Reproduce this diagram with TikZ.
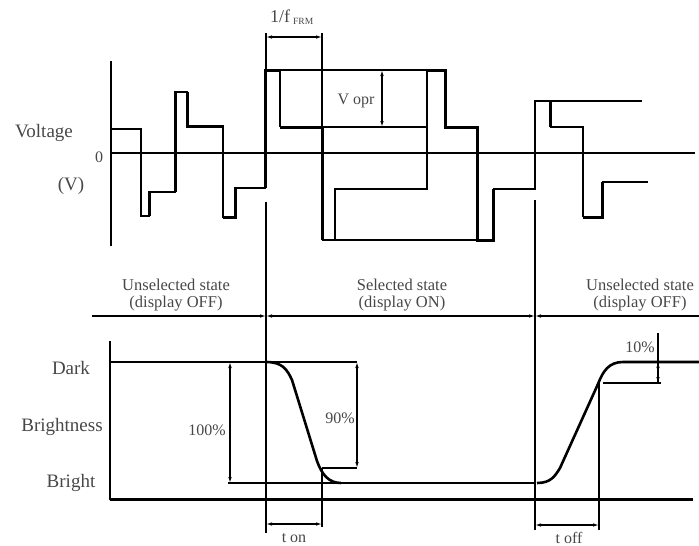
\documentclass[tikz,border=0pt]{standalone}
\usepackage{fontspec}
\setmainfont{Liberation Serif}
\usetikzlibrary{arrows.meta}
\begin{document}
\begin{tikzpicture}[x=1pt,y=-1pt,
  thinl/.style={line width=1.2pt},
  thickl/.style={line width=3pt},
  curvel/.style={line width=2.6pt},
  dimarr/.style={line width=1.1pt,{Latex[length=6pt,width=3.5pt]}-{Latex[length=6pt,width=3.5pt]}},
  endarr/.style={line width=1.1pt,-{Latex[length=6pt,width=3.5pt]}},
  startarr/.style={line width=1.1pt,{Latex[length=6pt,width=3.5pt]}-},
  lab/.style={text=black!72, inner sep=0pt},
  biglab/.style={lab, font=\fontsize{19}{20}\selectfont},
  midlab/.style={lab, font=\fontsize{16}{17}\selectfont},
  smalllab/.style={lab, font=\fontsize{16.5}{17}\selectfont}]
\useasboundingbox (0,0) rectangle (699,546);

% ---------- voltage section ----------
\draw[thinl] (111,61) -- (111,246);
\draw[thinl] (111,153) -- (695,153);

% waveform (thin base)
\draw[thinl] (111,129) -- (141,129) -- (141,216) -- (149,216) -- (149,192) -- (175,192)
  -- (175,92) -- (187,92) -- (187,126) -- (223,126) -- (223,217) -- (235,217)
  -- (235,188) -- (265,188) -- (265,70) -- (445,70);
% thick parts
\draw[thickl] (149,216) -- (149,192);
\draw[thickl] (175,192) -- (175,92);
\draw[thickl] (187,92) -- (187,126) -- (223,126);
\draw[thickl] (223,217) -- (235,217) -- (235,188);
\draw[thickl] (265,188) -- (265,70) -- (280,70);
\draw[thinl] (280,70) -- (280,127);
\draw[thickl] (280,127) -- (322,127) -- (322,240);
\draw[thinl] (322,127) -- (427,127);
\draw[thinl] (427,70) -- (427,189) -- (335,189) -- (335,240);
\draw[thinl] (322,240) -- (477,240);
\draw[thickl] (427,70) -- (445,70) -- (445,127) -- (477,127) -- (477,240) -- (493,240) -- (493,189);
\draw[thinl] (493,189) -- (535,189) -- (535,101) -- (642,101);
\draw[thickl] (550,101) -- (550,127);
\draw[thinl] (550,127) -- (583,127) -- (583,217);
\draw[thickl] (583,217) -- (602,217) -- (602,182);
\draw[thinl] (602,182) -- (648,182);

% 1/f dimension
\coordinate (fa) at (266,37);
\coordinate (fb) at (322,37);
\draw[thinl] (266,33) -- (266,70);
\draw[thinl] (322,33) -- (322,127);
\draw[dimarr] (fa) -- (fb);
\node[lab, font=\fontsize{18}{19}\selectfont, anchor=base west] (ffrm) at (270,22) {1/f\,\raisebox{-2pt}{\fontsize{9.5}{10}\selectfont FRM}};

% V opr dimension
\coordinate (va) at (382,70);
\coordinate (vb) at (382,127);
\draw[dimarr] (va) -- (vb);
\node[midlab] (vopr) at (356,101) {V opr};

\node[biglab] (volt) at (44,133) {Voltage};
\node[midlab] (zero) at (99,157) {0};
\node[biglab] (vunit) at (71,186) {(V)};

% ---------- state section ----------
\draw[thinl] (266,202) -- (266,533);
\draw[thinl] (535,200) -- (535,530);
\coordinate (s0) at (92,316);
\coordinate (s1) at (266,316);
\coordinate (s2) at (535,316);
\coordinate (s3) at (699,316);
\draw[endarr] (s0) -- (s1);
\draw[dimarr] (s1) -- (s2);
\draw[startarr] (s2) -- (s3);
\node[smalllab, align=center] (uns1) at (176,295) {Unselected state\\(display OFF)};
\node[smalllab, align=center] (sel) at (402,295) {Selected state\\(display ON)};
\node[smalllab, align=center] (uns2) at (640,295) {Unselected state\\(display OFF)};

% ---------- brightness section ----------
\draw[thinl] (110,341) -- (110,500);
\draw[thickl] (110,499) -- (693,499);
\draw[thinl] (110,362) -- (357,362);
\draw[thinl] (228,483) -- (535,483);

\draw[curvel] (266,362) .. controls (282,362) and (287,369) .. (292,380)
  -- (317,461) .. controls (322,475) and (329,483) .. (341,483);
\draw[curvel] (537,483) .. controls (551,483) and (555,476) .. (560,468)
  -- (598,384) .. controls (603,371) and (609,362) .. (623,362) -- (699,362);

% 100%
\draw[dimarr] (230,362) -- (230,483);
\node[midlab] (p100) at (207,430) {100\%};
% 90%
\draw[thinl] (322,468) -- (357,468);
\draw[dimarr] (357,362) -- (357,468);
\node[midlab] (p90) at (340,418) {90\%};
% t on
\draw[thinl] (322,468) -- (322,527);
\draw[dimarr] (266,524) -- (322,524);
\node[midlab] (ton) at (294,538) {t on};
% 10%
\draw[thinl] (658,333) -- (658,383);
\draw[thinl] (603,383) -- (661,383);
\draw[dimarr] (658,362) -- (658,383);
\node[midlab] (p10) at (640,347) {10\%};
% t off
\draw[thinl] (599,383) -- (599,530);
\draw[dimarr] (535,525) -- (599,525);
\node[midlab] (toff) at (569,538) {t off};

\node[biglab] (dark) at (71,368) {Dark};
\node[biglab] (brness) at (62,427) {Brightness};
\node[biglab] (bright) at (71,483) {Bright};
\end{tikzpicture}
\end{document}
